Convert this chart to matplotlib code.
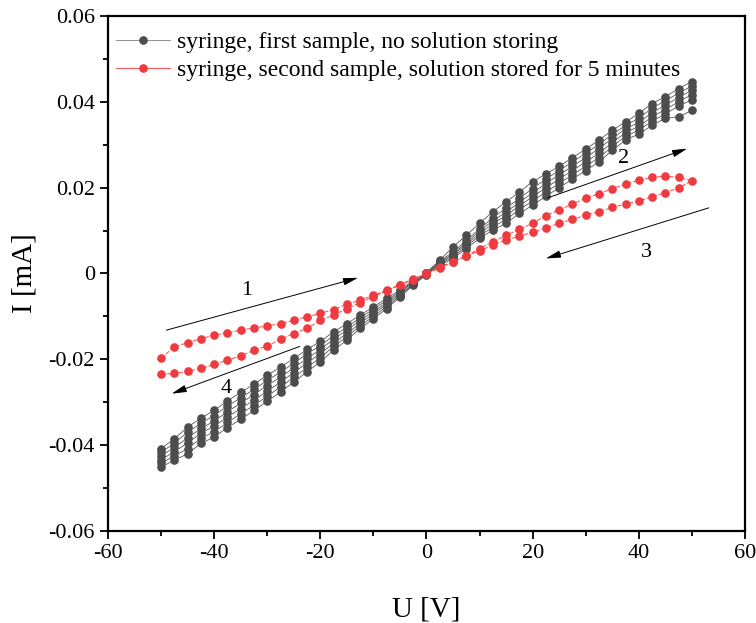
import numpy as np
import matplotlib
matplotlib.use('Agg')
import matplotlib.pyplot as plt
from matplotlib.ticker import MultipleLocator, FuncFormatter

plt.rcParams.update({'font.family': 'serif',
                     'font.serif': ['Liberation Serif', 'DejaVu Serif'],
                     'axes.unicode_minus': False,
                     'mathtext.fontset': 'stix'})

# voltage grid of each sweep [V]
voltage = np.linspace(-50, 50, 41)

# syringe, first sample: several repeated sweeps, current [mA]
black_sweeps = [
    [-0.0408, -0.0385, -0.0358, -0.0337, -0.0319, -0.0297, -0.0277, -0.0258, -0.0237, -0.0218, -0.0198,
     -0.0177, -0.0158, -0.0136, -0.0117, -0.0097, -0.0078, -0.0058, -0.0039, -0.0016, 0.0002,
     0.0031, 0.0062, 0.0089, 0.0117, 0.0144, 0.0167, 0.0190, 0.0214, 0.0232, 0.0250,
     0.0270, 0.0290, 0.0311, 0.0334, 0.0353, 0.0373, 0.0396, 0.0412, 0.0431, 0.0447],
    [-0.0417, -0.0395, -0.0370, -0.0349, -0.0331, -0.0309, -0.0290, -0.0270, -0.0249, -0.0230, -0.0209,
     -0.0187, -0.0168, -0.0145, -0.0125, -0.0103, -0.0083, -0.0063, -0.0042, -0.0018, 0.0001,
     0.0029, 0.0050, 0.0077, 0.0104, 0.0130, 0.0152, 0.0175, 0.0198, 0.0220, 0.0240,
     0.0260, 0.0280, 0.0301, 0.0324, 0.0345, 0.0362, 0.0385, 0.0403, 0.0420, 0.0437],
    [-0.0425, -0.0405, -0.0383, -0.0361, -0.0344, -0.0322, -0.0302, -0.0282, -0.0261, -0.0241, -0.0220,
     -0.0198, -0.0177, -0.0153, -0.0132, -0.0109, -0.0089, -0.0068, -0.0045, -0.0020, 0.0000,
     0.0026, 0.0046, 0.0072, 0.0099, 0.0123, 0.0143, 0.0166, 0.0188, 0.0210, 0.0230,
     0.0250, 0.0270, 0.0291, 0.0315, 0.0337, 0.0352, 0.0375, 0.0392, 0.0410, 0.0427],
    [-0.0434, -0.0415, -0.0395, -0.0372, -0.0356, -0.0334, -0.0315, -0.0295, -0.0274, -0.0253, -0.0231,
     -0.0208, -0.0187, -0.0162, -0.0140, -0.0116, -0.0094, -0.0072, -0.0049, -0.0023, -0.0001,
     0.0024, 0.0043, 0.0068, 0.0093, 0.0116, 0.0135, 0.0158, 0.0179, 0.0200, 0.0220,
     0.0240, 0.0260, 0.0280, 0.0305, 0.0328, 0.0343, 0.0365, 0.0382, 0.0400, 0.0417],
    [-0.0442, -0.0425, -0.0408, -0.0384, -0.0369, -0.0347, -0.0327, -0.0307, -0.0286, -0.0264, -0.0242,
     -0.0219, -0.0196, -0.0170, -0.0147, -0.0122, -0.0100, -0.0077, -0.0052, -0.0025, -0.0002,
     0.0021, 0.0039, 0.0063, 0.0088, 0.0108, 0.0126, 0.0149, 0.0169, 0.0190, 0.0210,
     0.0230, 0.0250, 0.0270, 0.0296, 0.0320, 0.0334, 0.0355, 0.0372, 0.0390, 0.0405],
    [-0.0451, -0.0435, -0.0420, -0.0396, -0.0381, -0.0359, -0.0340, -0.0319, -0.0298, -0.0276, -0.0253,
     -0.0229, -0.0206, -0.0179, -0.0155, -0.0128, -0.0105, -0.0082, -0.0055, -0.0027, -0.0003,
     0.0019, 0.0035, 0.0058, 0.0082, 0.0101, 0.0117, 0.0140, 0.0159, 0.0180, 0.0200,
     0.0220, 0.0240, 0.0260, 0.0287, 0.0311, 0.0325, 0.0345, 0.0362, 0.0365, 0.0380],
]

# syringe, second sample: one loop -50 -> 50 (upper branch) -> -50 (lower branch)
red_up = [-0.0197, -0.0171, -0.0161, -0.0152, -0.0144, -0.0138, -0.0132, -0.0127, -0.0122, -0.0117, -0.0109,
          -0.0101, -0.0093, -0.0084, -0.0072, -0.0062, -0.0051, -0.0039, -0.0026, -0.0013, 0.0000,
          0.0014, 0.0027, 0.0041, 0.0058, 0.0074, 0.0089, 0.0103, 0.0117, 0.0135, 0.0148,
          0.0162, 0.0175, 0.0186, 0.0198, 0.0208, 0.0217, 0.0224, 0.0227, 0.0224, 0.0216]
red_down = [0.0200, 0.0188, 0.0179, 0.0169, 0.0162, 0.0154, 0.0144, 0.0136, 0.0126, 0.0117,
            0.0106, 0.0096, 0.0087, 0.0078, 0.0066, 0.0053, 0.0040, 0.0027, 0.0013, -0.0001,
            -0.0014, -0.0027, -0.0040, -0.0054, -0.0068, -0.0082, -0.0097, -0.0109, -0.0128, -0.0140,
            -0.0153, -0.0169, -0.0179, -0.0192, -0.0202, -0.0212, -0.0221, -0.0228, -0.0233, -0.0235]

red_u = np.concatenate([voltage, voltage[::-1][1:]])
red_i = np.concatenate([red_up, red_down])

fig = plt.figure(figsize=(7.56, 6.23), dpi=100)
ax = fig.add_axes([0.1429, 0.1477, 0.8425, 0.8266])

for k, sweep in enumerate(black_sweeps):
    ax.plot(voltage, sweep, color='#555555', lw=0.6, marker='o', ms=5.2,
            mfc='#4d4d4d', mec='#4d4d4d',
            label='syringe, first sample, no solution storing' if k == 0 else None)
ax.plot(red_u, red_i, color='#ff5a5a', lw=0.8, ls=(0, (4, 1.5)), marker='o', ms=5.2,
        mfc='#ee3b40', mec='#ee3b40', label='syringe, second sample, solution stored for 5 minutes')

# sweep direction arrows
arr = dict(arrowstyle='-|>,head_length=0.9,head_width=0.22', lw=0.7, color='black', shrinkA=0, shrinkB=0)
ax.annotate('', xy=(-12.9, -0.0010), xytext=(-49.0, -0.0132), arrowprops=arr)
ax.annotate('', xy=(49.1, 0.0291), xytext=(22.8, 0.0176), arrowprops=arr)
ax.annotate('', xy=(22.5, 0.0035), xytext=(53.2, 0.0153), arrowprops=arr)
ax.annotate('', xy=(-48.0, -0.0280), xytext=(-23.9, -0.0170), arrowprops=arr)
for txt, tx, ty in [('1', -33.9, -0.0039), ('2', 37.2, 0.0268), ('3', 41.4, 0.0048), ('4', -37.8, -0.0268)]:
    ax.text(tx, ty, txt, fontsize=16, ha='center', va='center')

ax.set_xlim(-60, 60)
ax.set_ylim(-0.06, 0.06)
ax.xaxis.set_major_locator(MultipleLocator(20))
ax.xaxis.set_minor_locator(MultipleLocator(10))
ax.yaxis.set_major_locator(MultipleLocator(0.02))
ax.yaxis.set_minor_locator(MultipleLocator(0.01))
ax.xaxis.set_major_formatter(FuncFormatter(lambda v, p: '0' if abs(v) < 1e-9 else '%d' % v))
ax.yaxis.set_major_formatter(FuncFormatter(lambda v, p: '0' if abs(v) < 1e-9 else '%.2f' % v))
ax.tick_params(which='both', direction='out', width=1.3, labelsize=16, top=False, right=False)
ax.tick_params(which='major', length=6)
ax.tick_params(which='minor', length=3.5)
for s in ax.spines.values():
    s.set_linewidth(1.6)

ax.set_xlabel('U [V]', fontsize=21, labelpad=24)
ax.set_ylabel('I [mA]', fontsize=21, labelpad=8)

leg = ax.legend(loc='upper left', bbox_to_anchor=(-0.012, 1.0), frameon=False, fontsize=17,
                handlelength=2.3, handletextpad=0.3, labelspacing=0.3, borderaxespad=0.25)
leg.get_lines()[0].set_color('#808080')
leg.get_lines()[1].set_linestyle('-')

fig.savefig('out.png', dpi=100)
